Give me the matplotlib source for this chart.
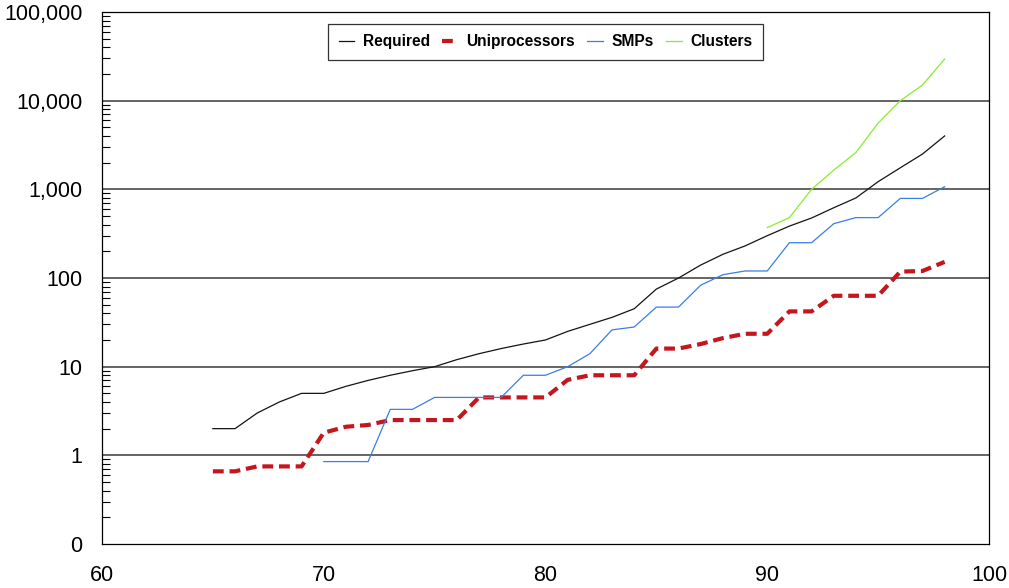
import matplotlib.pyplot as plt
from matplotlib.ticker import FixedLocator, FixedFormatter, LogLocator, NullFormatter
import numpy as np

plt.rcParams['font.family'] = ['Liberation Sans', 'DejaVu Sans']

# Performance in MFLOPS by year (19xx)
years_req = list(range(65, 99))
required = [2, 2, 3, 4, 5, 5, 6, 7, 8, 9,
            10, 12, 14, 16, 18, 20, 25, 30, 36, 45,
            75, 100, 140, 185, 230, 300, 385, 475, 620, 800,
            1220, 1750, 2500, 4000]

years_uni = list(range(65, 99))
uniprocessors = [0.66, 0.66, 0.75, 0.75, 0.75, 1.8, 2.1, 2.2, 2.5, 2.5,
                 2.5, 2.5, 4.5, 4.5, 4.5, 4.5, 7.1, 8, 8, 8,
                 16, 16, 18, 21, 23.5, 23.5, 42, 42, 63, 63,
                 63, 118, 120, 152]

years_smp = list(range(70, 99))
smps = [0.85, 0.85, 0.85, 3.3, 3.3, 4.5, 4.5, 4.5, 4.5, 8,
        8, 10, 14, 26, 28, 47, 47, 83, 109, 120,
        120, 250, 250, 410, 480, 480, 790, 790, 1070]

years_clu = list(range(90, 99))
clusters = [370, 480, 1000, 1650, 2600, 5600, 10000, 15000, 29500]

y_ticks = [0.1, 1, 10, 100, 1000, 10000, 100000]
y_labels = ['0', '1', '10', '100', '1,000', '10,000', '100,000']
x_ticks = [60, 70, 80, 90, 100]

fig = plt.figure(figsize=(10.09, 5.88), dpi=100)
ax = fig.add_axes([102 / 1009, 44 / 588, 887 / 1009, 532 / 588])

ax.set_yscale('log')
ax.set_xlim(60, 100)
ax.set_ylim(0.1, 100000)

for y in y_ticks[1:-1]:
    ax.axhline(y, color='#3a3a3a', lw=1.1, zorder=1)

ax.plot(years_req, required, color='#141414', lw=0.9, label='Required', zorder=3)
ax.plot(years_uni, uniprocessors, color='#c4161c', lw=3.0,
        linestyle=(0, (2.6, 1.4)), dash_capstyle='butt',
        label='Uniprocessors', zorder=2)
ax.plot(years_smp, smps, color='#3a7ee6', lw=0.9, label='SMPs', zorder=3)
ax.plot(years_clu, clusters, color='#86ee2a', lw=0.9, label='Clusters', zorder=3)

ax.yaxis.set_major_locator(FixedLocator(y_ticks))
ax.yaxis.set_major_formatter(FixedFormatter(y_labels))
ax.yaxis.set_minor_locator(LogLocator(base=10, subs=np.arange(2, 10)))
ax.yaxis.set_minor_formatter(NullFormatter())
ax.tick_params(axis='y', which='major', length=0, pad=14, labelsize=15.5)
ax.tick_params(axis='y', which='minor', direction='in', length=6, width=0.8)

ax.set_xticks(x_ticks)
ax.tick_params(axis='x', length=0, pad=15, labelsize=15.5)

for s in ax.spines.values():
    s.set_linewidth(0.9)
    s.set_color('black')

leg = ax.legend(loc='upper center', bbox_to_anchor=(0.5, 0.993), ncol=4,
                frameon=True, fancybox=False, edgecolor='black',
                prop={'weight': 'bold', 'size': 11.2},
                handlelength=1.0, handletextpad=0.55, columnspacing=0.8,
                borderpad=0.7)
leg.get_frame().set_linewidth(0.9)

fig.savefig('out.png', dpi=100)
